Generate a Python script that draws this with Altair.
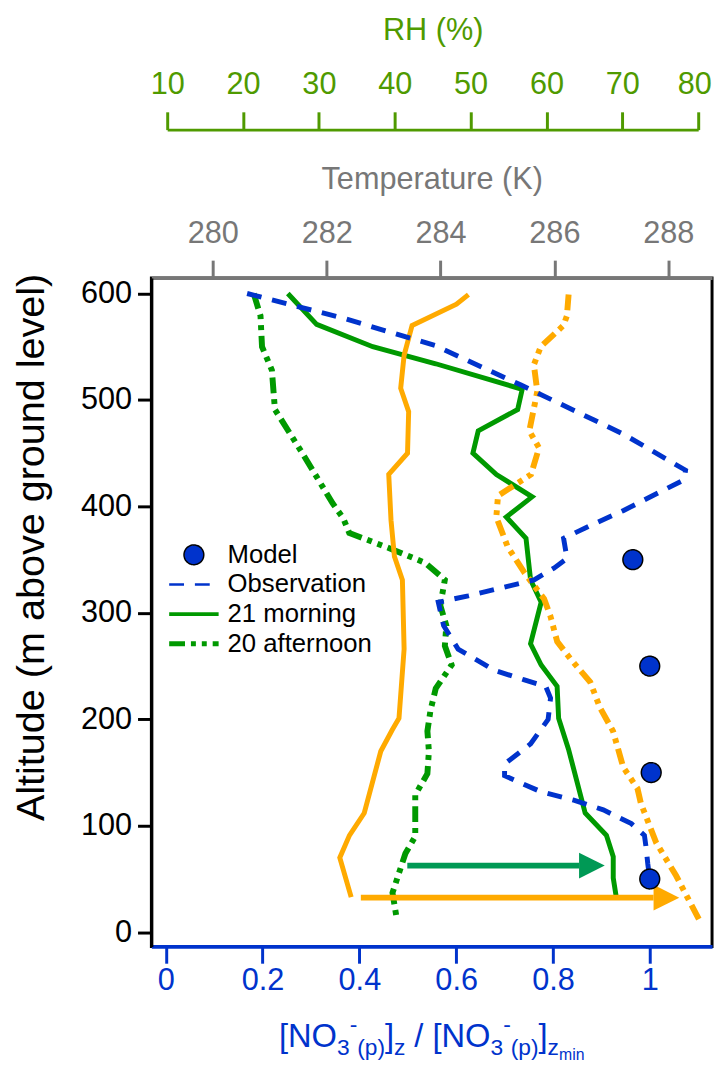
import altair as alt
import pandas as pd

FONT = "Liberation Sans"
BLUE = "#0033CC"
GREEN = "#009900"
ORANGE = "#FFAA00"
ARROW_GREEN = "#009955"
RH_GREEN = "#4F9A00"
GRAY = "#777777"

# ---------------- data ----------------
# Observation: [NO3-(p)]z / [NO3-(p)]zmin
obs_altitude = [600, 576, 551, 514, 468, 434, 425, 396, 382, 370, 351, 342, 331, 316, 310,
                288, 266, 246, 237, 231, 220, 200, 177, 158, 147, 132, 124, 115, 102, 91,
                81, 64, 50]
obs_ratio = [0.168, 0.373, 0.557, 0.734, 0.945, 1.074, 1.071, 0.945, 0.877, 0.822, 0.829,
             0.802, 0.761, 0.625, 0.563, 0.574, 0.604, 0.679, 0.741, 0.785, 0.795, 0.790,
             0.754, 0.700, 0.700, 0.775, 0.843, 0.904, 0.962, 0.989, 0.992, 0.996, 1.0]

# Model
model_altitude = [350, 250, 150, 50]
model_ratio = [0.965, 1.0, 1.003, 1.0]

# RH (%) profiles
rh21_altitude = [600, 571, 550, 534, 510, 491, 471, 450, 430, 409, 390, 370, 331, 310, 271,
                 251, 231, 201, 172, 112, 91, 71, 51, 33]
rh21 = [25.9, 29.7, 37.1, 45.4, 56.8, 56.2, 51.0, 50.3, 53.4, 58.1, 54.7, 57.3, 57.9, 59.3,
        57.9, 59.3, 61.4, 61.6, 62.9, 65.1, 67.9, 68.8, 68.8, 69.2]
rh20_altitude = [600, 579, 550, 528, 491, 449, 403, 389, 375, 361, 347, 331, 307, 288, 269,
                 251, 229, 208, 189, 170, 149, 129, 90, 74, 37, 11]
rh20 = [21.4, 22.3, 22.5, 23.8, 24.2, 27.9, 31.8, 33.2, 34.0, 39.2, 44.0, 46.6, 46.0, 46.8,
        46.6, 47.5, 45.4, 44.7, 44.3, 44.5, 44.3, 42.7, 42.7, 41.4, 39.7, 40.3]

# Temperature (K) profiles
t21_altitude = [599, 590, 570, 542, 511, 489, 450, 430, 387, 353, 331, 266, 201, 190, 170,
                112, 91, 70, 33]
t21 = [284.49, 284.28, 283.50, 283.36, 283.30, 283.44, 283.42, 283.09, 283.13, 283.19,
       283.33, 283.36, 283.27, 283.15, 282.95, 282.66, 282.40, 282.23, 282.43]
t20_altitude = [599, 579, 570, 550, 533, 508, 471, 455, 430, 410, 390, 362, 338, 313, 297,
                273, 257, 235, 211, 189, 155, 135, 121, 84, 53, 12]
t20 = [286.25, 286.22, 286.16, 285.76, 285.64, 285.70, 285.56, 285.73, 285.59, 285.01,
       284.98, 285.18, 285.47, 285.82, 285.93, 286.05, 286.28, 286.63, 286.80, 287.03,
       287.21, 287.46, 287.52, 287.79, 288.14, 288.54]

# Arrows (normalised axis units)
arrow_name = ["green", "orange"]
arrow_altitude = [62.6, 32.5]
arrow_from = [0.499, 0.403]
arrow_to = [0.907, 1.061]

SERIES = ["Model", "Observation", "21 morning", "20 afternoon"]

# ---------------- geometry / scales ----------------
W, H = 567, 676
N_DOM = [-0.0298, 1.1287]
T_DOM = [278.92, 288.77]
RH_DOM = [10, 80]
RH_RANGE = [16, 553]
Y_DOM = [-13.3, 614.6]
PX_PER_N = W / (N_DOM[1] - N_DOM[0])
HEAD = 26  # arrow head length in px

y_axis = alt.Axis(values=[0, 100, 200, 300, 400, 500, 600], title="Altitude (m above ground level)",
                  titleFont=FONT, titleFontSize=40, titleFontWeight="normal", titleColor="black",
                  titleAngle=-90, titleAlign="center", titleBaseline="bottom",
                  titleX=-101, titleY=272,
                  labelFont=FONT, labelFontSize=31, labelColor="black", labelPadding=6,
                  labelFlush=False,
                  tickSize=14, tickWidth=3, tickColor="black",
                  domainColor="black", domainWidth=3, grid=False)
y_scale = alt.Scale(domain=Y_DOM, nice=False, zero=False)


def yenc():
    return alt.Y("altitude:Q", scale=y_scale, axis=y_axis)


n_scale = alt.Scale(domain=N_DOM, nice=False, zero=False)
n_axis = alt.Axis(orient="bottom", values=[0, 0.2, 0.4, 0.6, 0.8, 1], format="~g", title=None,
                  labelFont=FONT, labelFontSize=31, labelColor=BLUE, labelPadding=3,
                  labelFlush=False,
                  tickSize=17, tickWidth=3, tickColor=BLUE,
                  domainColor=BLUE, domainWidth=4, grid=False)

t_scale = alt.Scale(domain=T_DOM, nice=False, zero=False)
t_axis = alt.Axis(orient="top", values=[280, 282, 284, 286, 288], title="Temperature (K)",
                  titleFont=FONT, titleFontSize=31, titleFontWeight="normal", titleColor=GRAY,
                  titleX=W / 2, titleY=-99, titleBaseline="middle", titleAlign="center",
                  labelFont=FONT, labelFontSize=31, labelColor=GRAY, labelPadding=11,
                  labelFlush=False,
                  tickSize=18, tickWidth=3, tickColor=GRAY,
                  domainColor=GRAY, domainWidth=3, grid=False)

rh_scale = alt.Scale(domain=RH_DOM, range=RH_RANGE, nice=False, zero=False)
rh_axis = alt.Axis(orient="top", offset=150, values=[10, 20, 30, 40, 50, 60, 70, 80], title="RH (%)",
                   titleFont=FONT, titleFontSize=31, titleFontWeight="normal", titleColor=RH_GREEN,
                   titleX=(RH_RANGE[0] + RH_RANGE[1]) / 2, titleY=-100, titleBaseline="middle",
                   titleAlign="center",
                   labelFont=FONT, labelFontSize=31, labelColor=RH_GREEN, labelPadding=12,
                   labelFlush=False,
                   labelOffset={"condition": {"test": "datum.value == 80", "value": -4}, "value": 0},
                   tickSize=18, tickWidth=3, tickColor=RH_GREEN,
                   domainColor=RH_GREEN, domainWidth=3, grid=False)

DASHDOT = [16, 6, 5, 6, 5, 6]

# ---------------- data frames ----------------
obs_df = pd.DataFrame({"altitude": obs_altitude, "val": obs_ratio, "idx": range(len(obs_ratio))})
model_df = pd.DataFrame({"altitude": model_altitude, "val": model_ratio, "series": "Model"})
rh21_df = pd.DataFrame({"altitude": rh21_altitude, "val": rh21, "idx": range(len(rh21))})
rh20_df = pd.DataFrame({"altitude": rh20_altitude, "val": rh20, "idx": range(len(rh20))})
t21_df = pd.DataFrame({"altitude": t21_altitude, "val": t21, "idx": range(len(t21))})
t20_df = pd.DataFrame({"altitude": t20_altitude, "val": t20, "idx": range(len(t20))})
arrow_df = pd.DataFrame({"name": arrow_name, "altitude": arrow_altitude,
                         "start": arrow_from, "tip": arrow_to})

# ---------------- RH layer ----------------
rh_x = alt.X("val:Q", scale=rh_scale, axis=rh_axis)
rh21_line = alt.Chart(rh21_df).mark_line(color=GREEN, strokeWidth=5).encode(
    x=rh_x, y=yenc(), order="idx:Q")
rh20_line = alt.Chart(rh20_df).mark_line(color=GREEN, strokeWidth=6, strokeDash=DASHDOT).encode(
    x=rh_x, y=yenc(), order="idx:Q")
rh_layer = alt.layer(rh20_line, rh21_line)

# ---------------- Temperature layer ----------------
t_x = alt.X("val:Q", scale=t_scale, axis=t_axis)
t21_line = alt.Chart(t21_df).mark_line(color=ORANGE, strokeWidth=5).encode(
    x=t_x, y=yenc(), order="idx:Q")
t20_line = alt.Chart(t20_df).mark_line(color=ORANGE, strokeWidth=6, strokeDash=DASHDOT).encode(
    x=t_x, y=yenc(), order="idx:Q")
t_layer = alt.layer(t21_line, t20_line)

# ---------------- normalised layer ----------------
n_x = alt.X("val:Q", scale=n_scale, axis=n_axis)
obs_line = alt.Chart(obs_df).mark_line(color=BLUE, strokeWidth=5, strokeDash=[15, 11]).encode(
    x=n_x, y=yenc(), order="idx:Q")

arrow_color = alt.Color("name:N", scale=alt.Scale(domain=arrow_name, range=[ARROW_GREEN, ORANGE]),
                        legend=None)
arrow_base = alt.Chart(arrow_df).transform_calculate(
    line_end=f"datum.tip - {HEAD / PX_PER_N}",
    head_c=f"datum.tip - {HEAD / 2 / PX_PER_N}")
arrow_rule = arrow_base.mark_rule(strokeWidth=6).encode(
    x=alt.X("start:Q", scale=n_scale, axis=n_axis), x2="line_end:Q", y=yenc(), color=arrow_color)
arrow_head = arrow_base.mark_point(shape="M-1,-1L1,0L-1,1Z", filled=True, size=HEAD * HEAD,
                                   opacity=1, strokeWidth=0).encode(
    x=alt.X("head_c:Q", scale=n_scale, axis=n_axis), y=yenc(), color=arrow_color)

leg = alt.Legend(title=None, orient="none", legendX=30, legendY=267, labelFont=FONT,
                 labelFontSize=26, labelColor="black", labelOffset=21, rowPadding=4,
                 symbolSize=400, padding=0)
LINE_SYMBOL = "M-2.5,0H2.5"
points = alt.Chart(model_df).mark_point(filled=True, size=400, opacity=1).encode(
    x=n_x, y=yenc(),
    fill=alt.Fill("series:N", scale=alt.Scale(domain=SERIES, range=[BLUE, BLUE, GREEN, GREEN]),
                  legend=leg),
    stroke=alt.Stroke("series:N", scale=alt.Scale(domain=SERIES, range=["black", BLUE, GREEN, GREEN]),
                      legend=leg),
    shape=alt.Shape("series:N", scale=alt.Scale(domain=SERIES,
                                                range=["circle", LINE_SYMBOL, LINE_SYMBOL, LINE_SYMBOL]),
                    legend=leg),
    strokeWidth=alt.StrokeWidth("series:N", scale=alt.Scale(domain=SERIES, range=[1.5, 5, 5, 5]),
                                legend=leg),
    strokeDash=alt.StrokeDash("series:N", scale=alt.Scale(domain=SERIES,
                                                          range=[[1, 0], [15, 11], [1, 0], DASHDOT]),
                              legend=leg),
)

# ---------------- rich-text x-axis title ----------------
W_EM = {'[': 0.278, 'N': 0.722, 'O': 0.778, '3': 0.556, '-': 0.333, '(': 0.333, 'p': 0.556,
        ')': 0.333, ']': 0.278, 'z': 0.5, ' ': 0.278, '/': 0.278, 'm': 0.833, 'i': 0.222, 'n': 0.556}
# (text, font size, vertical shift, gap before)
pieces = [("[NO", 33, 0, 0), ("3", 23, 8, 0), ("-", 23, -15, 0), ("(p)", 23, 8, 0),
          ("]", 33, 0, 0), ("z", 23, 8, 0),
          ("/ [NO", 33, 0, 9), ("3", 23, 8, 0), ("-", 23, -15, 0), ("(p)", 23, 8, 0),
          ("]", 33, 0, 0), ("z", 23, 8, 0), ("min", 16, 13, 0)]


def tw(s, size):
    return sum(W_EM[c] for c in s) * size


total = sum(tw(t, s) + g for t, s, d, g in pieces)
x = W / 2 - total / 2
Y_BASE = 778
title_layers = []
for t, s, d, g in pieces:
    x += g
    title_layers.append(
        alt.Chart(alt.Data(values=[{}])).mark_text(
            text=t, font=FONT, fontSize=s, color=BLUE, align="left", baseline="alphabetic"
        ).encode(x=alt.value(x), y=alt.value(Y_BASE + d))
    )
    x += tw(t, s)

n_layer = alt.layer(obs_line, arrow_rule, arrow_head, points, *title_layers)

chart = alt.layer(rh_layer, t_layer, n_layer).resolve_scale(x="independent").properties(
    width=W, height=H,
    autosize=alt.AutoSizeParams(type="none"),
    padding={"left": 145, "top": 267, "right": 4, "bottom": 119},
).configure_view(stroke="black", strokeWidth=3).configure_axis(grid=False)

chart.save("out.html", embed_options={"renderer": "svg", "actions": False})
